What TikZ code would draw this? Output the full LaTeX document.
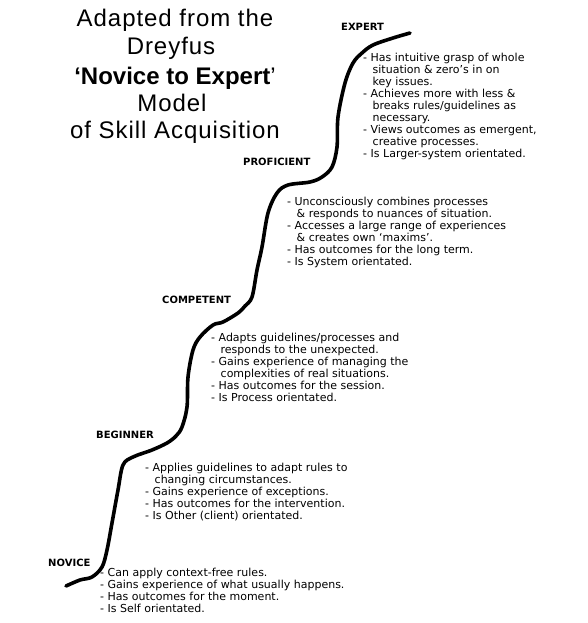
\documentclass[tikz,border=0pt]{standalone}
\usepackage{fontspec}
\setmainfont{Liberation Sans}
\newfontfamily\dv{DejaVu Sans}
\newfontfamily\ttlfont[LetterSpace=4]{Liberation Sans}
\newcommand\cnt{\hspace*{9.5pt}}
\begin{document}
\begin{tikzpicture}[x=1pt,y=-1pt,
  ttl/.style={anchor=base, inner sep=0, font=\ttlfont\fontsize{24}{28}\selectfont},
  ttlb/.style={anchor=base, inner sep=0, font=\fontsize{24}{28}\selectfont},
  stage/.style={anchor=base west, inner sep=0, font=\dv\bfseries\fontsize{10}{11}\selectfont},
  desc/.style={anchor=north west, inner sep=0, align=left, font=\dv\fontsize{11}{12}\selectfont},
  curve/.style={line width=3.6pt, line cap=round, line join=round}]
\useasboundingbox (0,0) rectangle (587,623);
\fill[white] (0,0) rectangle (587,623);
% title
\node[ttl] (t1) at (175,27) {Adapted from the};
\node[ttl] (t2) at (171,55) {Dreyfus};
\node[ttlb] (t3) at (175,85) {\textbf{‘Novice to Expert}’};
\node[ttl] (t4) at (172,112) {Model};
\node[ttl] (t5) at (175,138) {of Skill Acquisition};
% curve
\draw[curve] plot[smooth, tension=0.55] coordinates {
 (66,586) (80,580) (92,577) (102,567) (107,550) (112,523) (118,490) (123,465)
 (133,457) (152,450) (167,443) (176,436) (182,427) (187,407) (188,377) (193,350)
 (200,337) (213,325) (223,322) (238,313) (245,306) (252,297) (257,270) (262,247)
 (268,213) (277,193) (288,185) (310,182) (322,177) (332,167) (337,147) (338,117)
 (345,83) (353,63) (362,53) (373,45) (393,38) (410,33)};
% stage labels
\node[stage] (expert) at (341,31) {EXPERT};
\node[stage] (proficient) at (243,165) {PROFICIENT};
\node[stage] (competent) at (162,303) {COMPETENT};
\node[stage] (beginner) at (96,438) {BEGINNER};
\node[stage] (novice) at (48,566) {NOVICE};
% descriptions
\node[desc] (dexp) at (363,52) {\rule{0pt}{9pt}- Has intuitive grasp of whole\\
\cnt situation \& zero’s in on\\
\cnt key issues.\\
- Achieves more with less \&\\
\cnt breaks rules/guidelines as\\
\cnt necessary.\\
- Views outcomes as emergent,\\
\cnt creative processes.\\
- Is Larger-system orientated.};
\node[desc] (dprof) at (287,196) {\rule{0pt}{9pt}- Unconsciously combines processes\\
\cnt \& responds to nuances of situation.\\
- Accesses a large range of experiences\\
\cnt \& creates own ‘maxims’.\\
- Has outcomes for the long term.\\
- Is System orientated.};
\node[desc] (dcomp) at (211,332) {\rule{0pt}{9pt}- Adapts guidelines/processes and\\
\cnt responds to the unexpected.\\
- Gains experience of managing the\\
\cnt complexities of real situations.\\
- Has outcomes for the session.\\
- Is Process orientated.};
\node[desc] (dbeg) at (145,462) {\rule{0pt}{9pt}- Applies guidelines to adapt rules to\\
\cnt changing circumstances.\\
- Gains experience of exceptions.\\
- Has outcomes for the intervention.\\
- Is Other (client) orientated.};
\node[desc] (dnov) at (100,567) {\rule{0pt}{9pt}- Can apply context-free rules.\\
- Gains experience of what usually happens.\\
- Has outcomes for the moment.\\
- Is Self orientated.};
\end{tikzpicture}
\end{document}
